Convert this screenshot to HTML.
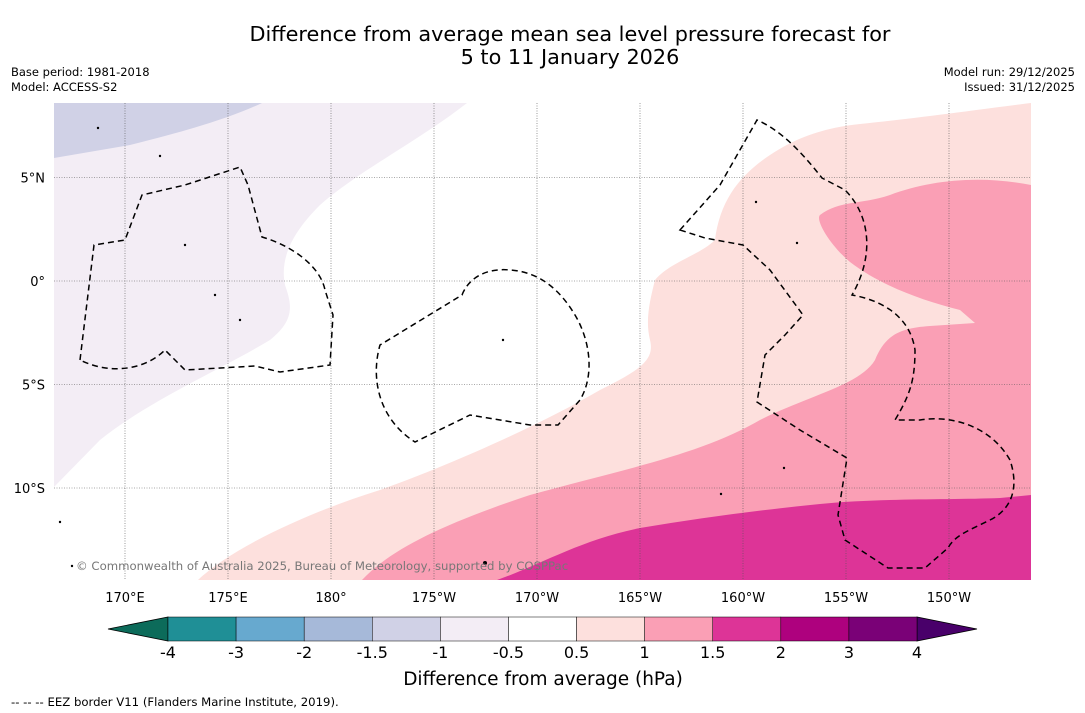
<!DOCTYPE html>
<html><head><meta charset="utf-8">
<style>
body{margin:0;background:#fff;font-family:"DejaVu Sans","Liberation Sans",sans-serif;}
svg{display:block;font-family:"DejaVu Sans","Liberation Sans",sans-serif;}
</style></head>
<body>
<svg id="chart" width="1085" height="713" viewBox="0 0 1085 713">
<text x="570" y="41" font-size="20.8" text-anchor="middle">Difference from average mean sea level pressure forecast for</text>
<text x="570" y="64" font-size="20.8" text-anchor="middle">5 to 11 January 2026</text>
<text x="11" y="76" font-size="11.5">Base period: 1981-2018</text>
<text x="11" y="91" font-size="11.5">Model: ACCESS-S2</text>
<text x="1075" y="76" font-size="11.5" text-anchor="end">Model run: 29/12/2025</text>
<text x="1075" y="91" font-size="11.5" text-anchor="end">Issued: 31/12/2025</text>
<defs><clipPath id="mc"><rect x="54" y="103" width="977" height="477"/></clipPath></defs>
<g clip-path="url(#mc)">
<rect x="54" y="103" width="977" height="477" fill="#fff"/>
<path fill="#f3edf5" d="M54,103 L467,103 C420,140 360,170 320,205 C290,235 280,260 285,285 C292,305 295,320 270,340 C220,370 150,400 100,440 L54,487 Z"/>
<path fill="#d0d1e6" d="M54,103 L262,103 C230,118 190,130 130,145 L54,158 Z"/>
<path fill="#fde0dd" d="M198,580 C230,550 300,515 380,490 C450,465 540,425 600,390 C640,370 655,360 650,340 C645,320 650,300 655,280 C670,262 700,255 715,240 C720,200 740,175 770,155 C800,135 830,127 860,124 C920,118 990,108 1031,103 L1031,580 Z"/>
<path fill="#fa9fb5" d="M362,580 C390,550 440,525 530,495 C620,470 700,455 760,420 C810,395 860,385 875,360 C885,335 900,328 930,326 L975,323 L960,310 C920,300 880,285 850,262 C830,245 815,220 820,215 C840,200 860,205 890,195 C930,180 980,175 1031,185 L1031,580 Z"/>
<path fill="#dd3497" d="M497,580 C540,565 580,540 640,528 C700,518 760,510 820,504 C880,498 950,500 1000,498 L1031,495 L1031,580 Z"/>
<g id="grid" stroke="#555" stroke-width="0.6" stroke-dasharray="1,1.5" fill="none"></g>
<g fill="none" stroke="#000" stroke-width="1.5" stroke-dasharray="6,4">
<path d="M80,360 L94,245 L125,240 L142,195 L185,185 L240,167 L248,185 L262,237 C290,245 320,265 325,290 L333,315 L330,365 L280,372 L255,366 L185,370 L165,350 C145,370 110,375 80,360 Z"/>
<path d="M462,295 C470,275 490,268 510,270 C540,272 560,290 575,315 C590,340 595,375 580,400 L558,425 L530,425 L470,415 L415,442 C380,420 370,380 380,345 Z"/>
<path d="M680,230 L720,185 L757,120 C780,130 800,150 822,178 L845,190 C870,215 875,255 852,295 C880,300 910,315 915,350 C915,380 910,395 895,420 L920,420 C950,415 990,425 1010,460 C1020,490 1010,510 990,520 C970,530 955,535 948,548 L925,568 L888,568 L845,540 L838,515 L847,458 L800,430 L757,402 L765,355 L785,335 L803,315 L770,270 L743,245 L705,238 Z"/>
</g>
<g fill="#000">
<circle cx="98" cy="128" r="1.2"/><circle cx="160" cy="156" r="1.2"/><circle cx="185" cy="245" r="1.2"/><circle cx="215" cy="295" r="1.2"/><circle cx="240" cy="320" r="1.2"/><circle cx="503" cy="340" r="1.2"/><circle cx="756" cy="202" r="1.2"/><circle cx="797" cy="243" r="1.2"/><circle cx="784" cy="468" r="1.2"/><circle cx="721" cy="494" r="1.2"/><circle cx="485" cy="563" r="2"/><circle cx="60" cy="522" r="1.2"/><circle cx="72" cy="566" r="1.2"/>
</g>
<text x="76" y="570" font-size="11.7" fill="#777">© Commonwealth of Australia 2025, Bureau of Meteorology, supported by COSPPac</text>
</g>
<g id="ticks" font-size="13"></g>
<g id="cbar"></g>
<text x="543" y="685" font-size="18.5" text-anchor="middle">Difference from average (hPa)</text>
<text x="11" y="706" font-size="11.7">--  --  -- EEZ border V11 (Flanders Marine Institute, 2019).</text>
</svg>
<script>
const lonLabels=["170°E","175°E","180°","175°W","170°W","165°W","160°W","155°W","150°W"];
const lonValues=[170,175,180,185,190,195,200,205,210];
const latLabels=["5°N","0°","5°S","10°S"];
const latValues=[5,0,-5,-10];
const levels=["-4","-3","-2","-1.5","-1","-0.5","0.5","1","1.5","2","3","4"];
const levelColors=["#1f8f96","#67a9cf","#a6b9d9","#d0d1e6","#f3edf5","#ffffff","#fde0dd","#fa9fb5","#dd3497","#ae017e","#7a0177"];
const extendColors=["#0c6b5a","#49006a"];
const NS="http://www.w3.org/2000/svg";
const xLon=l=>125+(l-170)*20.6;
const yLat=l=>281-l*20.7;
function mk(t,a,p){const e=document.createElementNS(NS,t);for(const k in a)e.setAttribute(k,a[k]);p.appendChild(e);return e;}
const grid=document.getElementById('grid'),ticks=document.getElementById('ticks');
lonValues.forEach((v,i)=>{
 const l=mk('line',{x1:xLon(v),x2:xLon(v),y1:103,y2:580},grid);
 
 
 const t=mk('text',{x:xLon(v),y:602,'text-anchor':'middle'},ticks);t.textContent=lonLabels[i];
 
 
});
latValues.forEach((v,i)=>{
 const l=mk('line',{x1:54,x2:1031,y1:yLat(v),y2:yLat(v)},grid);
 
 
 const t=mk('text',{x:45,y:yLat(v)+5,'text-anchor':'end'},ticks);t.textContent=latLabels[i];
 
 
});
const cb=document.getElementById('cbar');
const x0=168,x1=917,y0=617,h=24,n=levelColors.length,w=(x1-x0)/n;
const lt=mk('polygon',{points:`${x0},${y0} ${x0},${y0+h} 108,${y0+h/2}`,fill:extendColors[0],stroke:'#000','stroke-width':0.8},cb);


const rt=mk('polygon',{points:`${x1},${y0} ${x1},${y0+h} 977,${y0+h/2}`,fill:extendColors[1],stroke:'#000','stroke-width':0.8},cb);


levelColors.forEach((c,i)=>{
 const r=mk('rect',{x:x0+i*w,y:y0,width:w,height:h,fill:c,stroke:'#000','stroke-width':0.5},cb);
 
 
});
levels.forEach((s,i)=>{
 const t=mk('text',{x:x0+i*w,y:658,'text-anchor':'middle','font-size':16},cb);t.textContent=s;
 
 
});
</script>
</body></html>
